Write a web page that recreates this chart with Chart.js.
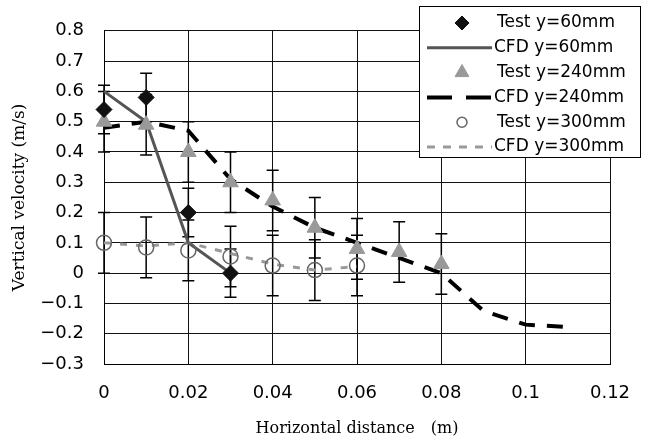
<!DOCTYPE html>
<html>
<head>
<meta charset="utf-8">
<script src="https://cdn.jsdelivr.net/npm/chart.js@4.4.0/dist/chart.umd.min.js"></script>
<style>
html, body { margin: 0; padding: 0; background: #fff; }
#wrap { width: 650px; height: 442px; }
</style>
</head>
<body>
<div id="wrap"><canvas id="chart" width="650" height="442"></canvas></div>
<script>
// series values
var seriesNames = ['Test y=60mm', 'CFD y=60mm', 'Test y=240mm', 'CFD y=240mm', 'Test y=300mm', 'CFD y=300mm'];

var test60X = [0, 0.01, 0.02, 0.03];
var test60Y = [0.54, 0.58, 0.20, 0.0];
var test60Err = [0.08, 0.08, 0.08, 0.08];

var cfd60X = [0, 0.01, 0.02, 0.03];
var cfd60Y = [0.60, 0.50, 0.10, 0.0];

var test240X = [0, 0.01, 0.02, 0.03, 0.04, 0.05, 0.06, 0.07, 0.08];
var test240Y = [0.50, 0.49, 0.40, 0.30, 0.24, 0.15, 0.08, 0.07, 0.03];
var test240Err = [0.1, 0.1, 0.1, 0.1, 0.1, 0.1, 0.1, 0.1, 0.1];

var cfd240X = [0, 0.01, 0.02, 0.03, 0.04, 0.05, 0.06, 0.07, 0.08, 0.09, 0.10, 0.11];
var cfd240Y = [0.48, 0.50, 0.47, 0.31, 0.22, 0.15, 0.10, 0.05, 0.0, -0.125, -0.17, -0.178];

var test300X = [0, 0.01, 0.02, 0.03, 0.04, 0.05, 0.06];
var test300Y = [0.10, 0.085, 0.075, 0.055, 0.025, 0.01, 0.025];
var test300Err = [0.1, 0.1, 0.1, 0.1, 0.1, 0.1, 0.1];

var cfd300X = [0, 0.01, 0.02, 0.03, 0.04, 0.05, 0.06];
var cfd300Y = [0.10, 0.09, 0.10, 0.065, 0.03, 0.01, 0.022];

var xTicks = [0, 0.02, 0.04, 0.06, 0.08, 0.1, 0.12];
var yTicks = [-0.3, -0.2, -0.1, 0, 0.1, 0.2, 0.3, 0.4, 0.5, 0.6, 0.7, 0.8];

function pts(xs, ys) {
    return xs.map(function(x, i) { return {x: x, y: ys[i]}; });
}

function fmt(v) {
    var s = String(parseFloat(v.toFixed(2)));
    return s.replace('-', '\u2212');
}

var errorBars = {
    id: 'errorBars',
    beforeDatasetsDraw: function(chart) {
        var ctx = chart.ctx, xs = chart.scales.x, ys = chart.scales.y;
        ctx.save();
        ctx.strokeStyle = '#000';
        ctx.lineWidth = 1.5;
        chart.data.datasets.forEach(function(ds) {
            if (!ds.errors) return;
            ds.data.forEach(function(p, i) {
                var px = xs.getPixelForValue(p.x);
                var t = ys.getPixelForValue(p.y + ds.errors[i]);
                var b = ys.getPixelForValue(p.y - ds.errors[i]);
                ctx.beginPath();
                ctx.moveTo(px, t); ctx.lineTo(px, b);
                ctx.moveTo(px - 6, t); ctx.lineTo(px + 6, t);
                ctx.moveTo(px - 6, b); ctx.lineTo(px + 6, b);
                ctx.stroke();
            });
        });
        ctx.restore();
    }
};

var boxLegend = {
    id: 'boxLegend',
    afterDraw: function(chart) {
        var ctx = chart.ctx;
        var left = 419, top = 6, right = 640, bottom = 157;
        ctx.save();
        ctx.fillStyle = '#fff';
        ctx.fillRect(left, top, right - left, bottom - top);
        ctx.strokeStyle = '#000';
        ctx.lineWidth = 1;
        ctx.strokeRect(left + 0.5, top + 0.5, right - left, bottom - top);
        ctx.font = '17px "DejaVu Sans"';
        ctx.textBaseline = 'middle';
        ctx.textAlign = 'left';
        ctx.fillStyle = '#000';
        chart.data.datasets.forEach(function(ds, i) {
            var y = 23 + i * 24.8;
            if (ds.showLine) {
                ctx.save();
                ctx.strokeStyle = ds.borderColor;
                ctx.lineWidth = ds.borderWidth;
                ctx.setLineDash(ds.legendDash || []);
                ctx.beginPath();
                ctx.moveTo(427, y); ctx.lineTo(492, y);
                ctx.stroke();
                ctx.restore();
                ctx.fillText(ds.label, 494, y);
            } else {
                ctx.save();
                ctx.fillStyle = ds.backgroundColor;
                ctx.strokeStyle = ds.borderColor;
                ctx.lineWidth = ds.borderWidth;
                Chart.helpers.drawPoint(ctx, {pointStyle: ds.pointStyle, radius: ds.legendRadius, borderWidth: ds.borderWidth}, 462, y);
                ctx.restore();
                ctx.fillText(ds.label, 497, y);
            }
        });
        ctx.restore();
    }
};

var ctx = document.getElementById('chart').getContext('2d');
var chart = new Chart(ctx, {
    type: 'scatter',
    data: {
        datasets: [{
            label: seriesNames[0],
            data: pts(test60X, test60Y),
            errors: test60Err,
            pointStyle: 'rectRot',
            pointRadius: 8,
            legendRadius: 7,
            backgroundColor: '#111',
            borderColor: '#111',
            borderWidth: 1,
            order: 1
        }, {
            label: seriesNames[1],
            data: pts(cfd60X, cfd60Y),
            showLine: true,
            pointRadius: 0,
            borderColor: '#555',
            borderWidth: 3,
            order: 5
        }, {
            label: seriesNames[2],
            data: pts(test240X, test240Y),
            errors: test240Err,
            pointStyle: 'triangle',
            pointRadius: 9,
            legendRadius: 8,
            backgroundColor: '#999',
            borderColor: '#999',
            borderWidth: 1,
            order: 2
        }, {
            label: seriesNames[3],
            data: pts(cfd240X, cfd240Y),
            showLine: true,
            pointRadius: 0,
            borderColor: '#000',
            borderWidth: 4,
            borderDash: [16, 12],
            legendDash: [25, 14],
            order: 4
        }, {
            label: seriesNames[4],
            data: pts(test300X, test300Y),
            errors: test300Err,
            pointStyle: 'circle',
            pointRadius: 7.5,
            legendRadius: 5,
            backgroundColor: 'rgba(255,255,255,0)',
            borderColor: '#666',
            borderWidth: 1.5,
            order: 3
        }, {
            label: seriesNames[5],
            data: pts(cfd300X, cfd300Y),
            showLine: true,
            pointRadius: 0,
            borderColor: '#999',
            borderWidth: 3,
            borderDash: [7, 9],
            legendDash: [8, 8],
            order: 6
        }]
    },
    options: {
        responsive: false,
        animation: false,
        clip: false,
        layout: { padding: { left: 0, top: 22, right: 40, bottom: 0 } },
        plugins: {
            legend: { display: false },
            tooltip: { enabled: false }
        },
        scales: {
            x: {
                type: 'linear',
                min: 0, max: 0.12,
                afterBuildTicks: function(s) { s.ticks = xTicks.map(function(v) { return {value: v}; }); },
                afterFit: function(s) { s.height = 78; },
                grid: { color: '#111', lineWidth: 1, drawTicks: false },
                border: { color: '#000', width: 1 },
                ticks: {
                    padding: 19,
                    color: '#000',
                    font: { family: '"DejaVu Sans"', size: 18 },
                    maxRotation: 0,
                    callback: function(v) { return fmt(v); }
                },
                title: {
                    display: true,
                    text: 'Horizontal distance\u3000(m)',
                    color: '#000',
                    font: { family: '"DejaVu Serif"', size: 16 },
                    padding: { top: 0, bottom: 4 }
                }
            },
            y: {
                type: 'linear',
                min: -0.3, max: 0.8,
                afterBuildTicks: function(s) { s.ticks = yTicks.map(function(v) { return {value: v}; }); },
                afterFit: function(s) { s.width = 104; },
                grid: { color: '#111', lineWidth: 1, drawTicks: false },
                border: { color: '#000', width: 1 },
                ticks: {
                    padding: 20,
                    color: '#000',
                    font: { family: '"DejaVu Sans"', size: 18 },
                    callback: function(v) { return fmt(v); }
                },
                title: {
                    display: true,
                    text: 'Vertical velocity (m/s)',
                    color: '#000',
                    font: { family: '"DejaVu Serif"', size: 17 },
                    padding: { top: 9, bottom: 0 }
                }
            }
        }
    },
    plugins: [errorBars, boxLegend]
});
</script>
</body>
</html>
